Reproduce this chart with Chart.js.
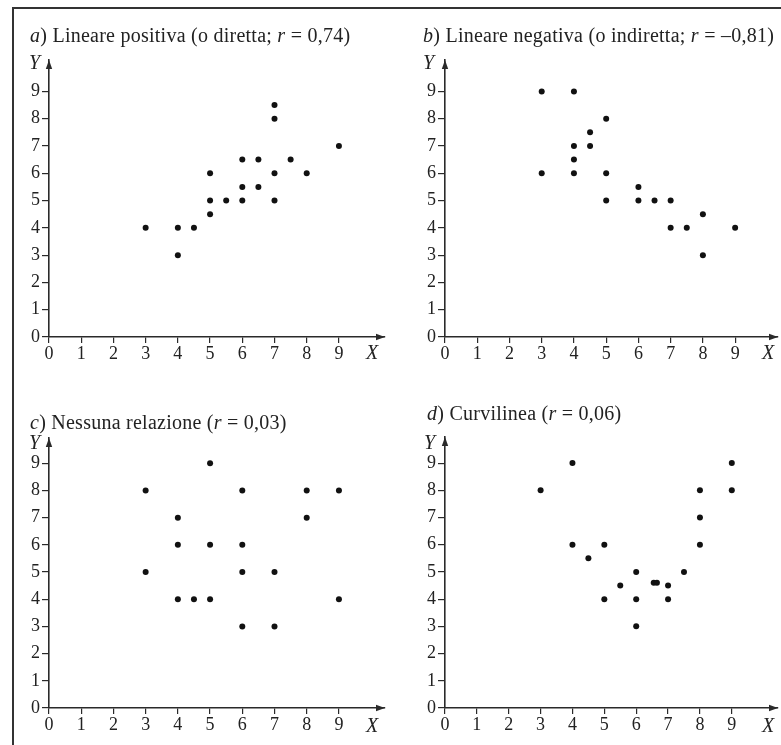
<!DOCTYPE html>
<html>
<head>
<meta charset="utf-8">
<script src="https://cdn.jsdelivr.net/npm/chart.js@4/dist/chart.umd.min.js"></script>
<style>
  html, body { margin:0; padding:0; background:#fff; }
  body { width:781px; height:745px; position:relative; overflow:hidden; font-family:"Liberation Serif","DejaVu Serif",serif; color:#222; }
  .frame { position:absolute; left:12px; top:7px; width:780px; height:760px; border-top:2px solid #333; border-left:2px solid #333; }
  canvas { position:absolute; }
  .t { position:absolute; font-size:20px; line-height:20px; letter-spacing:0.25px; white-space:nowrap; color:#222; }
  .ax { position:absolute; font-size:20px; line-height:20px; font-style:italic; color:#222; }
  i { font-style:italic; }
</style>
</head>
<body>
<div class="frame"></div>
<canvas id="ca" width="390" height="370" style="left:0;top:0"></canvas>
<canvas id="cb" width="391" height="370" style="left:390px;top:0"></canvas>
<canvas id="cc" width="390" height="375" style="left:0;top:370px"></canvas>
<canvas id="cd" width="391" height="375" style="left:390px;top:370px"></canvas>

<div class="t" style="left:30px;top:25px"><i>a</i>) Lineare positiva (o diretta; <i>r</i> = 0,74)</div>
<div class="t" style="left:423px;top:25px"><i>b</i>) Lineare negativa (o indiretta; <i>r</i> = –0,81)</div>
<div class="t" style="left:30px;top:412px"><i>c</i>) Nessuna relazione (<i>r</i> = 0,03)</div>
<div class="t" style="left:427px;top:403px"><i>d</i>) Curvilinea (<i>r</i> = 0,06)</div>

<div class="ax" style="left:29px;top:52px">Y</div>
<div class="ax" style="left:423px;top:52px">Y</div>
<div class="ax" style="left:29px;top:432px">Y</div>
<div class="ax" style="left:424px;top:432px">Y</div>
<div class="ax" style="left:366px;top:342px">X</div>
<div class="ax" style="left:762px;top:342px">X</div>
<div class="ax" style="left:366px;top:715px">X</div>
<div class="ax" style="left:762px;top:715px">X</div>

<script>
// ---- data ----
const xTicks = [0, 1, 2, 3, 4, 5, 6, 7, 8, 9];
const yTicks = [0, 1, 2, 3, 4, 5, 6, 7, 8, 9];

const aX = [3, 4, 4, 4.5, 5, 5, 5, 5.5, 6, 6, 6, 6.5, 6.5, 7, 7, 7, 7, 7.5, 8, 9];
const aY = [4, 4, 3, 4, 6, 5, 4.5, 5, 6.5, 5.5, 5, 6.5, 5.5, 8.5, 8, 6, 5, 6.5, 6, 7];

const bX = [3, 3, 4, 4, 4, 4, 4.5, 4.5, 5, 5, 5, 6, 6, 6.5, 7, 7, 7.5, 8, 8, 9];
const bY = [9, 6, 9, 7, 6.5, 6, 7.5, 7, 8, 6, 5, 5.5, 5, 5, 5, 4, 4, 4.5, 3, 4];

const cX = [3, 3, 4, 4, 4, 4.5, 5, 5, 5, 6, 6, 6, 6, 7, 7, 8, 8, 9, 9];
const cY = [8, 5, 7, 6, 4, 4, 9, 6, 4, 8, 6, 5, 3, 5, 3, 8, 7, 8, 4];

const dX = [3, 4, 4, 4.5, 5, 5, 5.5, 6, 6, 6, 6.55, 6.65, 7, 7, 7.5, 8, 8, 8, 9, 9];
const dY = [8, 9, 6, 5.5, 6, 4, 4.5, 5, 4, 3, 4.6, 4.6, 4.5, 4, 5, 8, 7, 6, 9, 8];

// ---- drawing ----
const INK = '#2a2a2a';
const arrowPlugin = {
  id: 'arrows',
  afterDraw(chart) {
    const { ctx, chartArea: a } = chart;
    ctx.save();
    ctx.fillStyle = INK;
    ctx.beginPath();
    ctx.moveTo(a.right, a.bottom);
    ctx.lineTo(a.right - 9, a.bottom - 3.2);
    ctx.lineTo(a.right - 9, a.bottom + 3.2);
    ctx.closePath();
    ctx.fill();
    ctx.beginPath();
    ctx.moveTo(a.left, a.top);
    ctx.lineTo(a.left - 3.2, a.top + 9);
    ctx.lineTo(a.left + 3.2, a.top + 9);
    ctx.closePath();
    ctx.fill();
    ctx.restore();
  }
};

function makeChart(id, xs, ys, g) {
  const pts = xs.map((x, i) => ({ x: x, y: ys[i] }));
  const font = { family: 'Liberation Serif', size: 18 };
  return new Chart(document.getElementById(id), {
    type: 'scatter',
    data: { datasets: [{ data: pts, backgroundColor: '#111', borderColor: '#111', pointRadius: 3, pointHoverRadius: 3, borderWidth: 0 }] },
    options: {
      responsive: false,
      animation: false,
      events: [],
      layout: { padding: { left: 0, right: g.pr, top: g.pt, bottom: 0 } },
      plugins: { legend: { display: false }, tooltip: { enabled: false }, title: { display: false } },
      scales: {
        x: {
          type: 'linear', min: 0, max: g.xMax,
          afterBuildTicks: s => { s.ticks = xTicks.map(v => ({ value: v })); },
          afterFit: s => { s.height = g.xh; },
          grid: { drawOnChartArea: false, drawTicks: true, tickLength: 6, color: INK, lineWidth: 1.2 },
          border: { display: true, color: INK, width: 1.6 },
          ticks: { font: font, color: '#222', padding: 0, maxRotation: 0, autoSkip: false }
        },
        y: {
          type: 'linear', min: 0, max: g.yMax,
          afterBuildTicks: s => { s.ticks = yTicks.map(v => ({ value: v })); },
          afterFit: s => { s.width = g.yw; },
          grid: { drawOnChartArea: false, drawTicks: true, tickLength: 7, color: INK, lineWidth: 1.2 },
          border: { display: true, color: INK, width: 1.6 },
          ticks: { font: font, color: '#222', padding: 2, autoSkip: false }
        }
      }
    },
    plugins: [arrowPlugin]
  });
}

makeChart('ca', aX, aY, { yw: 49, pr: 5, pt: 60, xh: 33, xMax: 10.43, yMax: 10.15 });
makeChart('cb', bX, bY, { yw: 55, pr: 1, pt: 60, xh: 33, xMax: 10.33, yMax: 10.15 });
makeChart('cc', cX, cY, { yw: 49, pr: 5, pt: 68, xh: 37, xMax: 10.43, yMax: 9.93 });
makeChart('cd', dX, dY, { yw: 55, pr: 1, pt: 67, xh: 37, xMax: 10.45, yMax: 9.96 });
</script>
</body>
</html>
